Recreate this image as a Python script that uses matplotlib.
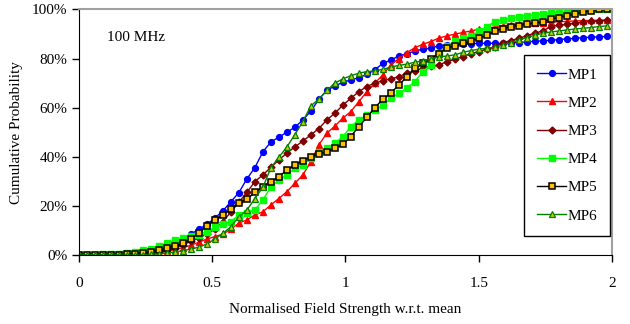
import matplotlib
matplotlib.use("Agg")
import matplotlib.pyplot as plt

plt.rcParams["font.family"] = ["Liberation Serif", "DejaVu Serif"]

# x positions: normalised field strength, step 0.03 from 0 to 1.98
x = [round(i * 0.03, 2) for i in range(67)]

# cumulative probability (%) per measurement point
mp1 = [0, 0, 0, 0, 0, 0, 0.2, 0.4, 0.8, 1.2,
       2, 3, 4.5, 6, 8.5, 10.5, 12.5, 15, 18, 21.7,
       25.4, 31, 35.6, 42, 46, 48, 50, 52, 55, 58.6,
       63.4, 67, 68.8, 70.3, 71.3, 72.2, 73.5, 75.4, 78, 79.4,
       81, 82, 83, 83.8, 84.2, 85.2, 85.6, 85.8, 86, 86,
       86.2, 86.2, 86.2, 86.2, 86.4, 86.5, 86.8, 87, 87.2, 87.4,
       87.7, 88, 88.2, 88.5, 88.7, 88.8, 89]
mp2 = [0, 0, 0, 0, 0, 0, 0, 0, 0.3, 0.6,
       1, 1.5, 2.2, 3, 4, 5.2, 6.5, 7.5, 8.5, 10.5,
       13, 14.3, 16.3, 17.6, 20.4, 23, 25.8, 29.2, 32.6, 38,
       44.8, 49.6, 52.5, 55.7, 58.4, 62.4, 66.5, 70, 73.3, 77.4,
       80, 82.4, 84.4, 85.8, 86.9, 88.3, 89.2, 89.9, 90.6, 91.2,
       91.9, 92.3, 92.8, 93.3, 93.7, 94, 94.3, 94.5, 94.6, 94.8,
       95, 95.1, 95.3, 95.4, 95.5, 95.6, 95.7]
mp3 = [0, 0, 0, 0, 0, 0, 0, 0.2, 0.4, 0.8,
       1.3, 2, 3, 4.2, 5.5, 7, 8.5, 10.5, 13.6, 17.5,
       21.5, 25.5, 29.9, 32.6, 35.7, 38.7, 41.5, 44, 46.4, 48.9,
       51.5, 55, 57.7, 61, 63.8, 66.5, 68.6, 70, 71, 71.7,
       72.6, 74, 75, 76, 76.8, 77.4, 78.7, 79.7, 80.8, 81.9,
       82.8, 83.8, 84.6, 86.4, 87.3, 88.2, 89.3, 90.3, 91.2, 93,
       93.5, 94, 94.4, 94.8, 95.1, 95.3, 95.5]
mp4 = [0, 0, 0, 0.2, 0.4, 0.6, 1, 1.4, 1.9, 2.5,
       3.7, 4.8, 5.9, 7, 7.6, 8.3, 9.5, 11.3, 12.5, 13.6,
       16.3, 17.2, 18.3, 22.4, 27.8, 30.5, 32.6, 35.3, 36.7, 39.4,
       42, 43.5, 45.5, 48.2, 52.3, 55, 57, 59, 61, 63.8,
       65.9, 67.9, 70.6, 74.7, 77.4, 82.2, 85, 87, 88.2, 89,
       91, 93, 95, 95.8, 96.5, 97, 97.5, 97.8, 98.1, 98.4,
       98.7, 99, 99.3, 99.6, 99.8, 100, 100]
mp5 = [0, 0, 0, 0, 0, 0, 0.2, 0.4, 0.8, 1.3,
       2, 2.7, 3.7, 4.8, 6.4, 9.1, 11.9, 14.3, 16.3, 18.8,
       21.3, 22.7, 25.5, 27.8, 29.9, 31.9, 34.6, 36.7, 38.4, 40,
       41.1, 42, 43.4, 45, 48.2, 52.3, 56, 60, 63.4, 65.9,
       69.2, 72.5, 76, 78, 80, 82, 84.2, 85.2, 86.2, 87,
       88.3, 89.4, 91.2, 92.2, 93, 93.4, 93.9, 94.4, 95, 96,
       96.7, 97.4, 98.1, 98.8, 99.5, 100, 100]
mp6 = [0, 0, 0, 0, 0, 0, 0, 0, 0, 0.2,
       0.5, 0.8, 1.2, 1.8, 2.4, 3.2, 4.5, 6.5, 8.8, 11.5,
       15.6, 18.3, 23, 27.6, 35.5, 39.8, 44, 49, 54.3, 60.7,
       63.5, 67, 70, 71.7, 73, 74, 74.7, 74.9, 75.6, 76.5,
       77.2, 77.7, 78.5, 79, 79.8, 80.7, 81, 81.5, 82.5, 83.2,
       83.8, 84.2, 84.6, 85.4, 86.5, 87.5, 88.5, 89.5, 90.2, 90.8,
       91.2, 91.6, 92, 92.3, 92.6, 93, 93.3]

fig = plt.figure(figsize=(6.3, 3.24), dpi=100)
ax = fig.add_axes([0.1254, 0.213, 0.846, 0.758])

ax.plot(x, mp1, color="#0000FF", lw=1, marker="o", ms=4.2, label="MP1")
ax.plot(x, mp2, color="#FF0000", lw=1, marker="^", ms=5, label="MP2")
ax.plot(x, mp3, color="#800000", lw=1, marker="D", ms=3.5, label="MP3")
ax.plot(x, mp4, color="#00FF00", lw=1, marker="s", ms=4.5, label="MP4")
ax.plot(x, mp5, color="black", lw=1, marker="s", ms=4.2, mfc="#FFC000",
        mec="black", mew=1.1, label="MP5")
ax.plot(x, mp6, color="#008000", lw=1, marker="^", ms=4.5, mfc="#C8C800",
        mec="#008000", mew=0.9, label="MP6")

ax.set_xlim(0, 2)
ax.set_ylim(0, 100)
ax.set_xticks([0, 0.5, 1, 1.5, 2])
ax.set_xticklabels(["0", "0.5", "1", "1.5", "2"])
ax.set_yticks(range(0, 101, 20))
ax.set_yticklabels([f"{v}%" for v in range(0, 101, 20)])
ax.tick_params(labelsize=11, direction="out", length=5, width=1)
ax.tick_params(axis="x", pad=11)

for side in ["top", "right"]:
    ax.spines[side].set_color("#a0a0a0")
    ax.spines[side].set_linewidth(1.5)

ax.set_xlabel("Normalised Field Strength w.r.t. mean", fontsize=11, labelpad=9)
ax.set_ylabel("Cumulative Probability", fontsize=11, labelpad=6)
ax.text(0.105, 87, "100 MHz", fontsize=11)

leg = ax.legend(loc="upper left", bbox_to_anchor=(0.835, 0.815), fontsize=11,
                frameon=True, fancybox=False, framealpha=1, edgecolor="black",
                handlelength=1.9, labelspacing=0.95, borderpad=0.85,
                handletextpad=0.1, borderaxespad=0)
leg.get_frame().set_linewidth(1)

fig.savefig("out.png", dpi=100)
